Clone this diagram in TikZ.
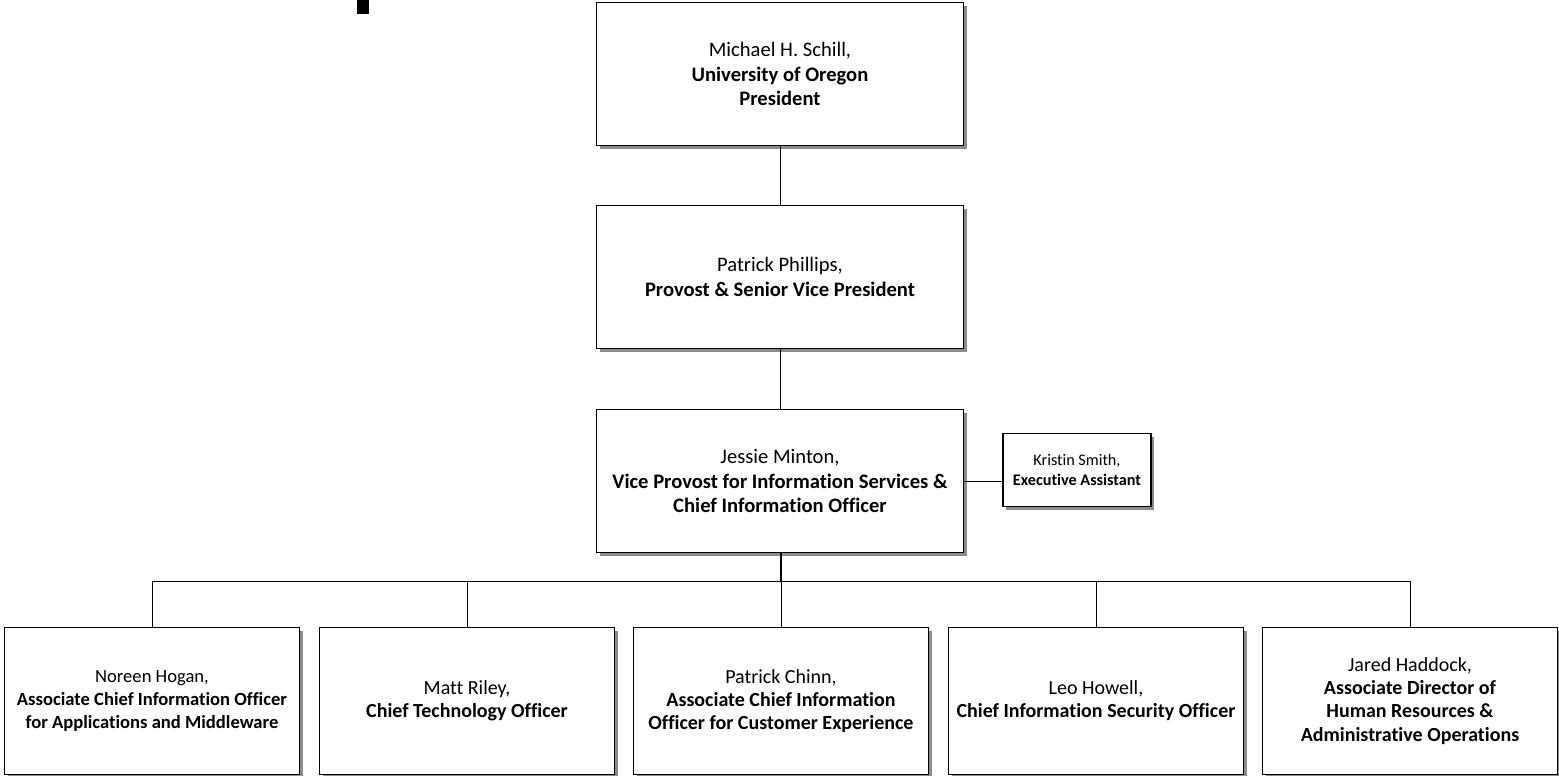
\documentclass[tikz,border=0pt]{standalone}
\usepackage{fontspec}
\setmainfont[Ligatures=NoCommon]{Carlito}
\usetikzlibrary{shadows}
\tikzset{
  post/.style={draw=black,line width=0.6pt,fill=white,align=center,
    minimum width=183.5pt,minimum height=71.5pt,inner sep=1pt,
    font=\fontsize{10.3}{12.2}\selectfont,
    drop shadow={shadow xshift=1.6pt,shadow yshift=-1.6pt,fill=black!45,opacity=1}},
  staff/.style={post,minimum width=147.5pt,minimum height=73.5pt,font=\fontsize{10}{11.6}\selectfont},
  aide/.style={post,minimum width=74pt,minimum height=36.5pt,font=\fontsize{8.1}{9.6}\selectfont},
  link/.style={draw=black,line width=0.5pt}
}
\begin{document}
\begin{tikzpicture}[x=0.5pt,y=-0.5pt]
\useasboundingbox (0,0) rectangle (1559,776);
\fill (357,0) rectangle (369,14);
\node[post] (pres) at (780,74) {Michael H. Schill,\\ \textbf{University of Oregon}\\ \textbf{President}};
\node[post] (prov) at (780,277) {Patrick Phillips,\\ \textbf{Provost \& Senior Vice President}};
\node[post] (vp) at (780,481) {Jessie Minton,\\ \textbf{Vice Provost for Information Services \&}\\ \textbf{Chief Information Officer}};
\node[aide] (kris) at (1077,470) {Kristin Smith,\\ \textbf{Executive Assistant}};
\node[staff,font=\fontsize{9.3}{11.6}\selectfont] (apps) at (152,701) {Noreen Hogan,\\ \textbf{Associate Chief Information Officer}\\ \textbf{for Applications and Middleware}};
\node[staff] (cto) at (467,701) {Matt Riley,\\ \textbf{Chief Technology Officer}};
\node[staff] (cx) at (781,701) {Patrick Chinn,\\ \textbf{Associate Chief Information}\\ \textbf{Officer for Customer Experience}};
\node[staff] (ciso) at (1096,701) {Leo Howell,\\ \textbf{Chief Information Security Officer}};
\node[staff] (hr) at (1410,701) {Jared Haddock,\\ \textbf{Associate Director of}\\ \textbf{Human Resources \&}\\ \textbf{Administrative Operations}};
\coordinate (bus) at (781,581);
\draw[link] (pres) -- (prov);
\draw[link] (prov) -- (vp);
\draw[link] (vp.east) -- (vp.east -| kris.west);
\draw[link,line width=1pt] (vp.south -| bus) -- (bus);
\draw[link] (apps.north |- bus) -- (hr.north |- bus);
\foreach \n in {apps,cto,cx,ciso,hr}
\draw[link] (\n.north |- bus) -- (\n.north);
\end{tikzpicture}
\end{document}
